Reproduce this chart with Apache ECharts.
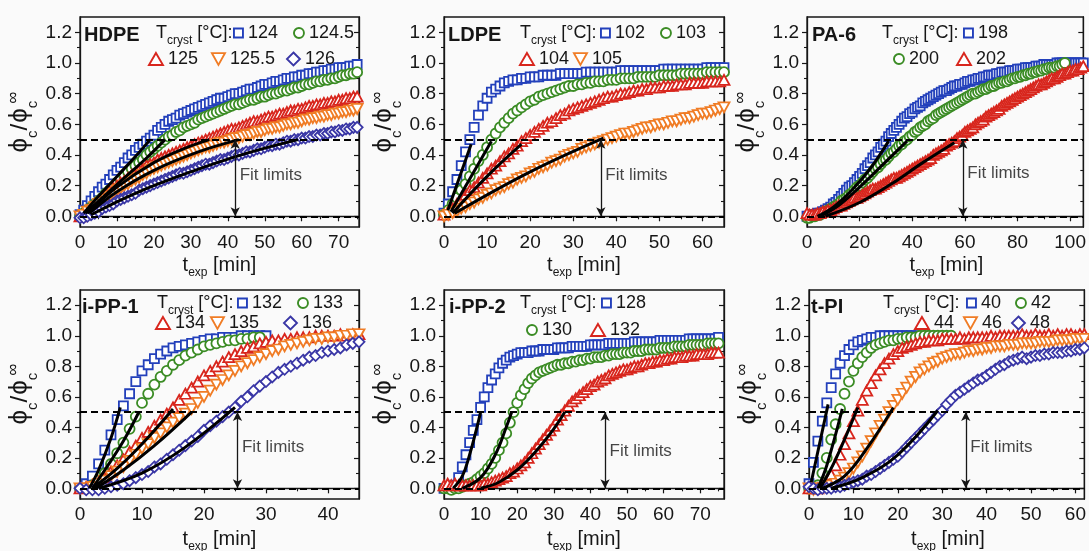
<!DOCTYPE html>
<html>
<head>
<meta charset="utf-8">
<script src="https://cdn.jsdelivr.net/npm/echarts@6/dist/echarts.min.js"></script>
<style>
  html, body { margin: 0; padding: 0; background: #fafafa; }
  #c { width: 1089px; height: 551px; }
</style>
</head>
<body>
<div id="c"></div>
<script>
// ---------- measured crystallinity curves, phi_c / phi_c_inf vs. t_exp [min] ----------

// HDPE
const tHDPE = [0,1,2,3,4,5,6,7,8,9,10,11,12,13,14,15,16,17,18,19,20,21,22,23,24,25,26,27,28,29,30,31,32,33,34,35,36,37,38,39,40,41,42,43,44,45,46,47,48,49,50,51,52,53,54,55,56,57,58,59,60,61,62,63,64,65,66,67,68,69,70,71,72,73,74,75];
const hdpe124 = [0.01,0.04,0.07,0.10,0.13,0.16,0.19,0.21,0.24,0.27,0.30,0.32,0.35,0.38,0.40,0.43,0.45,0.47,0.49,0.51,0.53,0.56,0.58,0.60,0.62,0.63,0.64,0.66,0.67,0.68,0.69,0.70,0.71,0.72,0.73,0.74,0.75,0.76,0.77,0.77,0.78,0.79,0.80,0.80,0.81,0.82,0.83,0.83,0.84,0.85,0.86,0.86,0.87,0.88,0.88,0.89,0.90,0.90,0.91,0.91,0.92,0.92,0.93,0.93,0.94,0.94,0.95,0.95,0.96,0.96,0.97,0.97,0.97,0.98,0.98,0.99];
const hdpe124_5 = [0.00,0.02,0.04,0.06,0.08,0.10,0.12,0.15,0.17,0.19,0.22,0.24,0.26,0.29,0.31,0.33,0.35,0.37,0.40,0.42,0.44,0.46,0.48,0.50,0.52,0.53,0.55,0.56,0.58,0.59,0.60,0.61,0.63,0.64,0.65,0.66,0.67,0.68,0.69,0.70,0.71,0.72,0.73,0.73,0.74,0.75,0.76,0.76,0.77,0.78,0.78,0.79,0.80,0.80,0.81,0.82,0.82,0.83,0.84,0.84,0.85,0.86,0.86,0.87,0.88,0.88,0.89,0.89,0.90,0.90,0.91,0.92,0.92,0.93,0.93,0.94];
const hdpe125 = [0.00,0.02,0.04,0.06,0.08,0.10,0.12,0.14,0.16,0.18,0.20,0.22,0.23,0.25,0.27,0.28,0.30,0.31,0.33,0.34,0.35,0.37,0.38,0.39,0.40,0.41,0.42,0.43,0.44,0.45,0.46,0.47,0.48,0.49,0.50,0.51,0.52,0.53,0.54,0.55,0.56,0.57,0.57,0.58,0.59,0.60,0.61,0.62,0.62,0.63,0.64,0.65,0.65,0.66,0.67,0.67,0.68,0.69,0.69,0.70,0.70,0.71,0.72,0.72,0.73,0.73,0.74,0.74,0.75,0.75,0.76,0.76,0.77,0.77,0.78,0.78];
const hdpe125_5 = [0.00,0.01,0.03,0.04,0.06,0.08,0.09,0.11,0.13,0.15,0.17,0.18,0.20,0.21,0.23,0.24,0.25,0.27,0.28,0.30,0.31,0.32,0.33,0.34,0.35,0.36,0.37,0.38,0.39,0.40,0.41,0.42,0.43,0.44,0.45,0.45,0.46,0.47,0.48,0.48,0.49,0.50,0.51,0.51,0.52,0.53,0.53,0.54,0.55,0.55,0.56,0.57,0.57,0.58,0.58,0.59,0.60,0.60,0.61,0.61,0.62,0.63,0.63,0.64,0.64,0.65,0.65,0.66,0.66,0.67,0.67,0.68,0.68,0.69,0.69,0.70];
const hdpe126 = [-0.01,-0.01,0.00,0.01,0.02,0.03,0.05,0.06,0.07,0.08,0.10,0.11,0.12,0.13,0.14,0.15,0.17,0.18,0.19,0.20,0.21,0.22,0.23,0.24,0.25,0.26,0.27,0.28,0.28,0.29,0.30,0.31,0.32,0.33,0.34,0.34,0.35,0.36,0.37,0.37,0.38,0.39,0.40,0.40,0.41,0.42,0.42,0.43,0.44,0.44,0.45,0.46,0.46,0.47,0.47,0.48,0.49,0.49,0.50,0.50,0.51,0.51,0.52,0.52,0.53,0.53,0.54,0.54,0.55,0.55,0.56,0.56,0.57,0.57,0.58,0.58];
const fitHDPE = [
  [[1,0.02],[5,0.13],[10,0.26],[15,0.39],[19,0.50]],
  [[1.5,0.02],[6,0.12],[12,0.25],[18,0.38],[23,0.50]],
  [[2,0.02],[10,0.19],[20,0.35],[28,0.44],[35,0.50]],
  [[2.5,0.02],[10,0.16],[20,0.30],[32,0.42],[43,0.50]],
  [[3,0.01],[15,0.15],[30,0.29],[45,0.41],[59,0.50]]
];

// LDPE
const tLDPE = [0,1,2,3,4,5,6,7,8,9,10,11,12,13,14,15,16,17,18,19,20,21,22,23,24,25,26,27,28,29,30,31,32,33,34,35,36,37,38,39,40,41,42,43,44,45,46,47,48,49,50,51,52,53,54,55,56,57,58,59,60,61,62,63,64,65];
const ldpe102 = [0.02,0.08,0.16,0.24,0.33,0.42,0.50,0.58,0.66,0.72,0.77,0.81,0.83,0.85,0.87,0.88,0.89,0.89,0.90,0.90,0.91,0.91,0.91,0.92,0.92,0.92,0.92,0.93,0.93,0.93,0.93,0.93,0.93,0.94,0.94,0.94,0.94,0.94,0.94,0.94,0.94,0.95,0.95,0.95,0.95,0.95,0.95,0.95,0.95,0.95,0.95,0.96,0.96,0.96,0.96,0.96,0.96,0.96,0.96,0.96,0.96,0.97,0.97,0.97,0.97,0.97];
const ldpe103 = [0.01,0.04,0.08,0.12,0.17,0.21,0.26,0.31,0.36,0.40,0.45,0.50,0.54,0.58,0.61,0.64,0.67,0.69,0.71,0.73,0.75,0.76,0.78,0.79,0.80,0.81,0.82,0.83,0.84,0.85,0.85,0.86,0.86,0.87,0.87,0.88,0.88,0.88,0.89,0.89,0.89,0.90,0.90,0.90,0.90,0.91,0.91,0.91,0.91,0.91,0.92,0.92,0.92,0.92,0.92,0.93,0.93,0.93,0.93,0.93,0.93,0.94,0.94,0.94,0.94,0.94];
const ldpe104 = [0.01,0.03,0.05,0.08,0.11,0.14,0.17,0.19,0.22,0.25,0.28,0.31,0.33,0.36,0.39,0.41,0.44,0.46,0.49,0.51,0.53,0.55,0.57,0.59,0.61,0.62,0.64,0.66,0.67,0.69,0.70,0.71,0.72,0.73,0.74,0.75,0.76,0.77,0.78,0.78,0.79,0.80,0.80,0.81,0.82,0.82,0.83,0.83,0.84,0.84,0.84,0.85,0.85,0.85,0.86,0.86,0.86,0.87,0.87,0.87,0.87,0.88,0.88,0.88,0.88,0.89];
const ldpe105 = [0.00,0.01,0.02,0.03,0.05,0.06,0.08,0.09,0.11,0.12,0.14,0.15,0.17,0.18,0.19,0.21,0.22,0.24,0.25,0.26,0.28,0.29,0.31,0.32,0.33,0.35,0.36,0.37,0.39,0.40,0.41,0.42,0.44,0.45,0.46,0.47,0.48,0.49,0.50,0.51,0.52,0.53,0.54,0.54,0.55,0.56,0.57,0.58,0.58,0.59,0.60,0.60,0.61,0.62,0.62,0.63,0.64,0.64,0.65,0.66,0.67,0.67,0.68,0.69,0.70,0.71];
const fitLDPE = [
  [[0.9,0.04],[6.3,0.47]],
  [[1.6,0.03],[11,0.49]],
  [[2,0.02],[10,0.26],[18,0.47]],
  [[2.5,0.02],[20,0.29],[37,0.51]]
];

// PA-6
const tPA6 = [0,1,2,3,4,5,6,7,8,9,10,11,12,13,14,15,16,17,18,19,20,21,22,23,24,25,26,27,28,29,30,31,32,33,34,35,36,37,38,39,40,41,42,43,44,45,46,47,48,49,50,51,52,53,54,55,56,57,58,59,60,61,62,63,64,65,66,67,68,69,70,71,72,73,74,75,76,77,78,79,80,81,82,83,84,85,86,87,88,89,90,91,92,93,94,95,96,97,98,99,100,101,102,103,104,105];
const pa198 = [0.00,0.00,0.01,0.01,0.02,0.02,0.03,0.04,0.05,0.06,0.08,0.09,0.11,0.13,0.15,0.17,0.19,0.20,0.22,0.24,0.26,0.28,0.31,0.33,0.35,0.38,0.40,0.42,0.45,0.47,0.49,0.52,0.54,0.56,0.58,0.60,0.62,0.64,0.65,0.67,0.68,0.70,0.71,0.72,0.74,0.75,0.76,0.77,0.78,0.79,0.80,0.81,0.82,0.82,0.83,0.84,0.85,0.85,0.86,0.86,0.87,0.88,0.88,0.89,0.89,0.90,0.90,0.91,0.91,0.92,0.92,0.92,0.93,0.93,0.94,0.94,0.94,0.95,0.95,0.95,0.96,0.96,0.96,0.97,0.97,0.97,0.97,0.98,0.98,0.98,0.99,0.99,0.99,0.99,0.99,1.00,1.00,1.00,1.00,1.00,1.00,1.00,1.00,1.00,1.00,1.00];
const pa200 = [-0.01,-0.01,0.00,0.00,0.01,0.01,0.02,0.03,0.04,0.05,0.06,0.07,0.08,0.10,0.11,0.12,0.14,0.15,0.17,0.19,0.20,0.22,0.24,0.25,0.27,0.29,0.31,0.32,0.34,0.36,0.37,0.39,0.41,0.42,0.44,0.46,0.47,0.49,0.50,0.52,0.53,0.55,0.56,0.58,0.59,0.60,0.62,0.63,0.64,0.66,0.67,0.68,0.69,0.70,0.71,0.72,0.73,0.74,0.75,0.76,0.77,0.78,0.79,0.80,0.80,0.81,0.82,0.83,0.83,0.84,0.85,0.85,0.86,0.87,0.87,0.88,0.88,0.89,0.90,0.90,0.91,0.91,0.92,0.92,0.93,0.93,0.94,0.94,0.95,0.95,0.96,0.96,0.97,0.97,0.97,0.98,0.98,0.99,1.00];
const pa202 = [0.02,0.01,0.01,0.01,0.02,0.02,0.03,0.03,0.04,0.04,0.05,0.06,0.07,0.07,0.08,0.09,0.10,0.11,0.12,0.12,0.13,0.14,0.15,0.16,0.17,0.18,0.18,0.19,0.20,0.21,0.22,0.23,0.24,0.25,0.25,0.26,0.27,0.28,0.29,0.30,0.31,0.32,0.33,0.34,0.35,0.36,0.37,0.38,0.40,0.41,0.42,0.43,0.44,0.46,0.47,0.48,0.49,0.51,0.52,0.53,0.55,0.56,0.57,0.58,0.60,0.61,0.62,0.63,0.65,0.66,0.67,0.68,0.69,0.70,0.72,0.73,0.74,0.75,0.76,0.77,0.78,0.79,0.80,0.81,0.82,0.83,0.84,0.85,0.86,0.86,0.87,0.88,0.89,0.90,0.90,0.91,0.92,0.93,0.93,0.94,0.95,0.95,0.96,0.96,0.97,0.98];
const fitPA6 = [
  [[4,0],[10,0.06],[17,0.17],[24,0.31],[31,0.49]],
  [[5,0],[12,0.07],[20,0.19],[29,0.34],[38,0.49]],
  [[7,0],[20,0.09],[32,0.21],[44,0.35],[56,0.48]]
];

// i-PP-1
const tIPP1 = [0,1,2,3,4,5,6,7,8,9,10,11,12,13,14,15,16,17,18,19,20,21,22,23,24,25,26,27,28,29,30,31,32,33,34,35,36,37,38,39,40,41,42,43,44,45];
const ipp1_132 = [0.00,0.03,0.08,0.16,0.25,0.35,0.45,0.54,0.62,0.70,0.77,0.81,0.85,0.88,0.90,0.92,0.93,0.94,0.95,0.96,0.97,0.98,0.98,0.99,0.99,0.99,1.00,1.00,1.00,1.00,1.00];
const ipp1_133 = [0.00,0.00,0.02,0.05,0.10,0.16,0.23,0.30,0.39,0.47,0.56,0.62,0.68,0.73,0.77,0.81,0.84,0.87,0.89,0.91,0.93,0.94,0.95,0.96,0.97,0.97,0.98,0.98,0.99,0.99];
const ipp1_134 = [0.00,0.01,0.02,0.04,0.07,0.11,0.15,0.19,0.24,0.28,0.33,0.37,0.41,0.45,0.49,0.53,0.58,0.62,0.66,0.70,0.74,0.77,0.80,0.83,0.86,0.88,0.90,0.92,0.93,0.95,0.96,0.97,0.97,0.98,0.98,0.99,0.99,0.99,1.00,1.00,1.00,1.00,1.01,1.00,1.01,1.01];
const ipp1_135 = [0.00,0.00,0.01,0.03,0.05,0.08,0.11,0.14,0.18,0.22,0.26,0.29,0.33,0.36,0.40,0.43,0.46,0.49,0.52,0.56,0.60,0.64,0.68,0.71,0.74,0.77,0.80,0.82,0.84,0.86,0.88,0.90,0.91,0.93,0.94,0.95,0.96,0.97,0.98,0.98,0.99,0.99,1.00,1.00,1.01,1.01];
const ipp1_136 = [0.00,-0.01,-0.01,-0.01,0.00,0.01,0.02,0.03,0.05,0.07,0.09,0.11,0.14,0.16,0.19,0.22,0.25,0.28,0.31,0.34,0.38,0.41,0.44,0.47,0.50,0.53,0.57,0.60,0.64,0.67,0.70,0.73,0.76,0.78,0.80,0.82,0.84,0.86,0.87,0.89,0.90,0.91,0.92,0.94,0.95,0.96];
const fitIPP1 = [
  [[1.5,0],[3,0.12],[5,0.33],[6.5,0.53]],
  [[2,0],[4,0.12],[7,0.31],[9.5,0.50]],
  [[2,0],[6,0.13],[10,0.29],[15,0.52]],
  [[2.5,0],[7,0.12],[12,0.28],[18,0.50]],
  [[3,0],[10,0.10],[17,0.27],[25,0.53]]
];

// i-PP-2
const tIPP2 = [0,1,2,3,4,5,6,7,8,9,10,11,12,13,14,15,16,17,18,19,20,21,22,23,24,25,26,27,28,29,30,31,32,33,34,35,36,37,38,39,40,41,42,43,44,45,46,47,48,49,50,51,52,53,54,55,56,57,58,59,60,61,62,63,64,65,66,67,68,69,70,71,72,73,74,75];
const ipp2_128 = [0.00,0.00,0.00,0.02,0.07,0.14,0.22,0.30,0.38,0.45,0.53,0.60,0.66,0.71,0.75,0.79,0.82,0.84,0.86,0.87,0.88,0.89,0.89,0.89,0.90,0.90,0.90,0.91,0.91,0.91,0.91,0.92,0.92,0.92,0.92,0.93,0.93,0.93,0.93,0.93,0.94,0.94,0.94,0.94,0.94,0.95,0.95,0.95,0.95,0.95,0.95,0.95,0.96,0.96,0.96,0.96,0.96,0.96,0.96,0.97,0.97,0.97,0.97,0.97,0.97,0.97,0.97,0.98,0.98,0.98,0.98,0.98,0.98,0.98,0.98,0.99];
const ipp2_130 = [0.00,0.00,-0.01,0.00,0.00,0.01,0.02,0.03,0.04,0.06,0.08,0.10,0.13,0.16,0.20,0.25,0.30,0.36,0.43,0.50,0.56,0.61,0.65,0.69,0.72,0.74,0.76,0.77,0.78,0.79,0.80,0.81,0.81,0.82,0.82,0.83,0.83,0.84,0.84,0.85,0.85,0.86,0.86,0.86,0.87,0.87,0.88,0.88,0.88,0.89,0.89,0.89,0.90,0.90,0.90,0.91,0.91,0.91,0.91,0.92,0.92,0.92,0.92,0.93,0.93,0.93,0.93,0.94,0.94,0.94,0.94,0.94,0.95,0.95,0.95,0.95];
const ipp2_132 = [0.02,0.03,0.02,0.03,0.02,0.02,0.02,0.02,0.02,0.02,0.02,0.03,0.03,0.04,0.05,0.06,0.07,0.08,0.10,0.11,0.13,0.15,0.17,0.20,0.23,0.26,0.29,0.32,0.35,0.38,0.41,0.45,0.48,0.51,0.54,0.57,0.59,0.61,0.63,0.65,0.67,0.68,0.70,0.71,0.72,0.74,0.75,0.76,0.77,0.78,0.78,0.79,0.80,0.80,0.81,0.82,0.82,0.83,0.83,0.84,0.84,0.85,0.85,0.86,0.86,0.86,0.87,0.87,0.87,0.88,0.88,0.88,0.88,0.89,0.89,0.89];
const fitIPP2 = [
  [[2.5,0],[5,0.08],[7,0.22],[9,0.40],[10,0.50]],
  [[5,0],[10,0.07],[14,0.22],[17,0.40],[18.5,0.50]],
  [[10,0],[15,0.04],[20,0.12],[25,0.24],[30,0.39],[33,0.50]]
];

// t-PI
const tTPI = [0,1,2,3,4,5,6,7,8,9,10,11,12,13,14,15,16,17,18,19,20,21,22,23,24,25,26,27,28,29,30,31,32,33,34,35,36,37,38,39,40,41,42,43,44,45,46,47,48,49,50,51,52,53,54,55,56,57,58,59,60,61,62];
const tpi40 = [0.03,0.17,0.31,0.44,0.56,0.66,0.75,0.82,0.87,0.91,0.94,0.96,0.97,0.98,0.99,0.99,1.00,1.00,1.00,1.00,1.00,1.00,1.00,1.00,1.00];
const tpi42 = [0.00,0.00,0.02,0.10,0.20,0.32,0.42,0.52,0.62,0.70,0.77,0.82,0.86,0.89,0.92,0.94,0.95,0.96,0.97,0.97,0.98,0.98,0.99,0.99,0.99,1.00,1.00,1.00,1.00,1.00,1.00,1.00,1.00];
const tpi44 = [0.00,0.00,0.00,0.02,0.05,0.09,0.15,0.22,0.29,0.36,0.44,0.51,0.58,0.64,0.69,0.74,0.78,0.82,0.85,0.88,0.90,0.92,0.93,0.94,0.95,0.96,0.96,0.97,0.97,0.97,0.98,0.98,0.98,0.98,0.99,0.98,0.99,0.99,0.99,0.99,0.99,1.00,0.99,1.00,1.00,1.00,1.00,1.00,1.01,1.00,1.00,1.01,1.00,1.00,1.01,1.00,1.01,1.00,1.01,1.01,1.00,1.01,1.01];
const tpi46 = [0.00,-0.01,0.00,0.00,0.01,0.02,0.03,0.05,0.07,0.10,0.13,0.17,0.21,0.26,0.31,0.36,0.41,0.45,0.50,0.54,0.58,0.62,0.66,0.70,0.73,0.76,0.78,0.80,0.82,0.83,0.85,0.86,0.87,0.88,0.88,0.89,0.90,0.90,0.91,0.91,0.92,0.92,0.93,0.93,0.93,0.94,0.94,0.94,0.95,0.95,0.95,0.95,0.96,0.96,0.96,0.96,0.97,0.97,0.97,0.97,0.98,0.98,0.98];
const tpi48 = [0.01,0.00,-0.01,0.00,0.00,0.00,0.01,0.01,0.02,0.03,0.04,0.05,0.06,0.08,0.09,0.11,0.13,0.15,0.17,0.19,0.21,0.24,0.27,0.30,0.33,0.36,0.39,0.42,0.45,0.48,0.51,0.55,0.58,0.61,0.63,0.65,0.67,0.69,0.71,0.72,0.74,0.76,0.78,0.80,0.81,0.83,0.84,0.85,0.86,0.85,0.86,0.87,0.87,0.88,0.88,0.89,0.89,0.89,0.90,0.90,0.91,0.91,0.92];
const fitTPI = [
  [[0.5,0.04],[4.3,0.55]],
  [[2,0],[4,0.15],[7.5,0.52]],
  [[2.5,0],[6,0.19],[11,0.53]],
  [[3,0],[8,0.08],[13,0.26],[19,0.53]],
  [[5,0],[12,0.07],[20,0.22],[29,0.51]]
];

// ---------- ticks and fit window ----------
const yTicks = [0, 0.2, 0.4, 0.6, 0.8, 1.0, 1.2];
const yMinorTicks = [0.1, 0.3, 0.5, 0.7, 0.9, 1.1];
const xTicks75 = [0, 10, 20, 30, 40, 50, 60, 70];
const xMinor75 = [5, 15, 25, 35, 45, 55, 65, 75];
const xTicks65 = [0, 10, 20, 30, 40, 50, 60];
const xMinor65 = [5, 15, 25, 35, 45, 55];
const xTicks105 = [0, 20, 40, 60, 80, 100];
const xMinor105 = [10, 30, 50, 70, 90];
const xTicks45 = [0, 10, 20, 30, 40];
const xMinor45 = [5, 15, 25, 35];
const fitLimits = [0, 0.5];

const panels = [
  { title: 'HDPE',   xMax: 75.5, xTicks: xTicks75,  xMinor: xMinor75,  t: tHDPE, temps: ['124', '124.5', '125', '125.5', '126'], ys: [hdpe124, hdpe124_5, hdpe125, hdpe125_5, hdpe126], fits: fitHDPE, arrowAt: 42,   noteAt: 0.27 },
  { title: 'LDPE',   xMax: 65,   xTicks: xTicks65,  xMinor: xMinor65,  t: tLDPE, temps: ['102', '103', '104', '105'], ys: [ldpe102, ldpe103, ldpe104, ldpe105], fits: fitLDPE, arrowAt: 36.4, noteAt: 0.27 },
  { title: 'PA-6',   xMax: 105,  xTicks: xTicks105, xMinor: xMinor105, t: tPA6,  temps: ['198', '200', '202'], ys: [pa198, pa200, pa202], fits: fitPA6, arrowAt: 59.2, noteAt: 0.28 },
  { title: 'i-PP-1', xMax: 45,   xTicks: xTicks45,  xMinor: xMinor45,  t: tIPP1, temps: ['132', '133', '134', '135', '136'], ys: [ipp1_132, ipp1_133, ipp1_134, ipp1_135, ipp1_136], fits: fitIPP1, arrowAt: 25.4, noteAt: 0.27 },
  { title: 'i-PP-2', xMax: 76.5, xTicks: xTicks75,  xMinor: xMinor75,  t: tIPP2, temps: ['128', '130', '132'], ys: [ipp2_128, ipp2_130, ipp2_132], fits: fitIPP2, arrowAt: 44,   noteAt: 0.24 },
  { title: 't-PI',   xMax: 62,   xTicks: xTicks65,  xMinor: xMinor65,  t: tTPI,  temps: ['40', '42', '44', '46', '48'], ys: [tpi40, tpi42, tpi44, tpi46, tpi48], fits: fitTPI, arrowAt: 35.3, noteAt: 0.27 }
];

// ---------- page layout (pixels) ----------
const layout = [
  { left: 80,  top: 17,  width: 279, height: 210, name: [84, 35],   tc: [156, 33], legend: [[233, 33], [293, 33], [148, 59], [211, 59], [286, 59]], xt: [219.5, 265], yt: [20, 122] },
  { left: 444, top: 17,  width: 280, height: 210, name: [448, 35],  tc: [520, 33], legend: [[600, 33], [660, 33], [519, 59], [573, 59]], xt: [584, 265], yt: [384, 122] },
  { left: 807, top: 17,  width: 279, height: 210, name: [812, 35],  tc: [882, 33], legend: [[963, 33], [893, 59], [956, 59]], xt: [946.5, 265], yt: [747, 122] },
  { left: 80,  top: 290, width: 279, height: 209, name: [82, 307],  tc: [157, 303], legend: [[237, 303], [297, 303], [155, 323], [210, 323], [283, 323]], xt: [219.5, 539], yt: [20, 394] },
  { left: 444, top: 290, width: 280, height: 209, name: [449, 307], tc: [520, 303], legend: [[601, 303], [526, 330], [590, 330]], xt: [584, 539], yt: [384, 394] },
  { left: 809, top: 290, width: 278, height: 209, name: [811, 307], tc: [883, 303], legend: [[966, 303], [1015, 303], [914, 323], [963, 323], [1011, 323]], xt: [948, 539], yt: [749, 394] }
];

const FONT = '"Liberation Sans", Arial, "DejaVu Sans", sans-serif';
const INK = '#161616';
const COLORS = ['#2340bb', '#3b8c25', '#d8261d', '#f07c25', '#3a37a6'];
const SYMBOLS = ['rect', 'circle', 'triangle', 'path://M0,0L10,0L5,9Z', 'diamond'];
const SIZES = [9, 10, [11, 10], [11, 10], [11, 11]];
const ICONS = [[9, 9], [10, 10], [14, 12], [13, 12], [13, 13]];
const Y_MIN = -0.07, Y_MAX = 1.3;

// text runs with sub/superscripts laid out from measured glyph widths
const measureCtx = document.createElement('canvas').getContext('2d');
function textWidth(str, size, bold) {
  measureCtx.font = (bold ? 'bold ' : '') + size + 'px ' + FONT;
  return measureCtx.measureText(str).width;
}
function textRun(x, y, parts, center, rotation) {
  let cursor = 0;
  const children = parts.map(p => {
    const el = {
      type: 'text', x: cursor, y: p.dy || 0, silent: true,
      style: {
        text: p.text, fontSize: p.size, fontFamily: FONT, fontWeight: p.bold ? 'bold' : 'normal',
        fill: INK, align: 'left', verticalAlign: 'middle', textAlign: 'left', textVerticalAlign: 'middle'
      }
    };
    cursor += textWidth(p.text, p.size, p.bold) + (p.gap || 0);
    return el;
  });
  if (center) children.forEach(c => { c.x -= cursor / 2; });
  return { type: 'group', x: x, y: y, rotation: rotation || 0, silent: true, children: children };
}

const grids = [], xAxes = [], yAxes = [], series = [], legends = [], graphics = [];

panels.forEach((p, i) => {
  const L = layout[i];
  grids.push({ left: L.left, top: L.top, width: L.width, height: L.height, show: true, borderColor: INK, borderWidth: 1.3, backgroundColor: 'transparent' });

  const baseX = { gridIndex: i, type: 'value', min: 0, max: p.xMax, position: 'bottom', splitLine: { show: false } };
  xAxes.push(Object.assign({}, baseX, {
    axisLine: { show: true, lineStyle: { color: INK, width: 1.3 } },
    axisTick: { show: true, customValues: p.xTicks, length: 5, lineStyle: { color: INK, width: 1.2 } },
    axisLabel: { show: true, customValues: p.xTicks, fontSize: 19, fontFamily: FONT, color: INK, margin: 6 }
  }));
  xAxes.push(Object.assign({}, baseX, {
    axisLine: { show: false },
    axisTick: { show: true, customValues: p.xMinor.filter(v => v < p.xMax), length: 3, lineStyle: { color: INK, width: 1.1 } },
    axisLabel: { show: false }
  }));

  const baseY = { gridIndex: i, type: 'value', min: Y_MIN, max: Y_MAX, splitLine: { show: false } };
  yAxes.push(Object.assign({}, baseY, {
    position: 'left',
    axisLine: { show: true, lineStyle: { color: INK, width: 1.3 } },
    axisTick: { show: true, customValues: yTicks, length: 5, lineStyle: { color: INK, width: 1.2 } },
    axisLabel: { show: true, customValues: yTicks, formatter: v => v.toFixed(1), fontSize: 19, fontFamily: FONT, color: INK, margin: 8 }
  }));
  yAxes.push(Object.assign({}, baseY, {
    position: 'left', axisLine: { show: false },
    axisTick: { show: true, customValues: yMinorTicks, length: 3, lineStyle: { color: INK, width: 1.1 } },
    axisLabel: { show: false }
  }));
  yAxes.push(Object.assign({}, baseY, {
    position: 'right', axisLine: { show: true, lineStyle: { color: INK, width: 1.3 } },
    axisTick: { show: true, inside: true, customValues: yTicks, length: 5, lineStyle: { color: INK, width: 1.2 } },
    axisLabel: { show: false }
  }));
  yAxes.push(Object.assign({}, baseY, {
    position: 'right', axisLine: { show: false },
    axisTick: { show: true, inside: true, customValues: yMinorTicks, length: 3, lineStyle: { color: INK, width: 1.1 } },
    axisLabel: { show: false }
  }));

  const xi = 2 * i, yi = 4 * i;

  // measured points
  p.ys.forEach((ys, k) => {
    const name = p.title + '-' + p.temps[k];
    series.push({
      type: 'scatter', name: name, xAxisIndex: xi, yAxisIndex: yi,
      data: ys.map((v, j) => [p.t[j], v]),
      symbol: SYMBOLS[k], symbolSize: SIZES[k],
      itemStyle: { color: '#ffffff', borderColor: COLORS[k], borderWidth: 1.8, opacity: 1 },
      emphasis: { disabled: true }, silent: true, z: 2
    });
    const [lx, cy] = L.legend[k];
    const [w, h] = ICONS[k];
    const label = p.temps[k];
    legends.push({
      data: [name], left: lx, top: cy - 10, padding: 0, itemGap: 0,
      itemWidth: w, itemHeight: h, icon: SYMBOLS[k], selectedMode: false,
      itemStyle: { color: '#ffffff', borderColor: COLORS[k], borderWidth: 1.9 },
      formatter: () => label,
      textStyle: { fontSize: 18, fontFamily: FONT, color: INK, lineHeight: 20 }
    });
  });

  // fitted curves
  p.fits.forEach(f => {
    series.push({
      type: 'line', xAxisIndex: xi, yAxisIndex: yi, data: f, smooth: 0.4,
      symbol: 'none', lineStyle: { color: '#000000', width: 3 }, silent: true, z: 4
    });
  });

  // fit window: dashed limits, double arrow and its note
  const dashed = { type: [7, 4], width: 2.2, color: '#000000' };
  const solid = { type: 'solid', width: 1.3, color: INK };
  series.push({
    type: 'scatter', xAxisIndex: xi, yAxisIndex: yi,
    data: [[p.arrowAt, p.noteAt]], symbolSize: 1,
    itemStyle: { color: 'rgba(0,0,0,0)' }, silent: true, z: 6,
    label: { show: true, position: 'right', distance: 4, formatter: 'Fit limits', fontSize: 17, fontFamily: FONT, color: INK },
    markLine: {
      silent: true, animation: false, symbol: ['none', 'none'], label: { show: false },
      emphasis: { disabled: true },
      data: [
        { yAxis: fitLimits[0], lineStyle: dashed },
        { yAxis: fitLimits[1], lineStyle: dashed },
        [
          { coord: [p.arrowAt, fitLimits[0]], symbol: 'arrow', symbolSize: [7, 9], lineStyle: solid },
          { coord: [p.arrowAt, fitLimits[1]], symbol: 'arrow', symbolSize: [7, 9], lineStyle: solid }
        ]
      ]
    }
  });

  // panel name, legend heading and axis titles
  graphics.push({
    type: 'text', x: L.name[0], y: L.name[1], silent: true, z: 10,
    style: { text: p.title, fontSize: 20, fontWeight: 'bold', fontFamily: FONT, fill: INK, align: 'left', verticalAlign: 'middle', textAlign: 'left', textVerticalAlign: 'middle' }
  });
  graphics.push(textRun(L.tc[0], L.tc[1], [
    { text: 'T', size: 18 }, { text: 'cryst', size: 12, dy: 8 }, { text: ' [°C]:', size: 18 }
  ], false, 0));
  graphics.push(textRun(L.xt[0], L.xt[1], [
    { text: 't', size: 20 }, { text: 'exp', size: 12, dy: 8 }, { text: ' [min]', size: 20 }
  ], true, 0));
  graphics.push(textRun(L.yt[0], L.yt[1], [
    { text: 'ϕ', size: 26 }, { text: 'c', size: 15, dy: 13 }, { text: '/', size: 24, gap: 1 },
    { text: 'ϕ', size: 26 }, { text: 'c', size: 15, dy: 13, gap: -3 }, { text: '∞', size: 17, dy: -7 }
  ], true, Math.PI / 2));
});

const chart = echarts.init(document.getElementById('c'), null, { renderer: 'canvas', width: 1089, height: 551 });
chart.setOption({
  backgroundColor: '#fafafa',
  animation: false,
  textStyle: { fontFamily: FONT },
  grid: grids,
  xAxis: xAxes,
  yAxis: yAxes,
  legend: legends,
  series: series,
  graphic: { elements: graphics }
});
</script>
</body>
</html>
